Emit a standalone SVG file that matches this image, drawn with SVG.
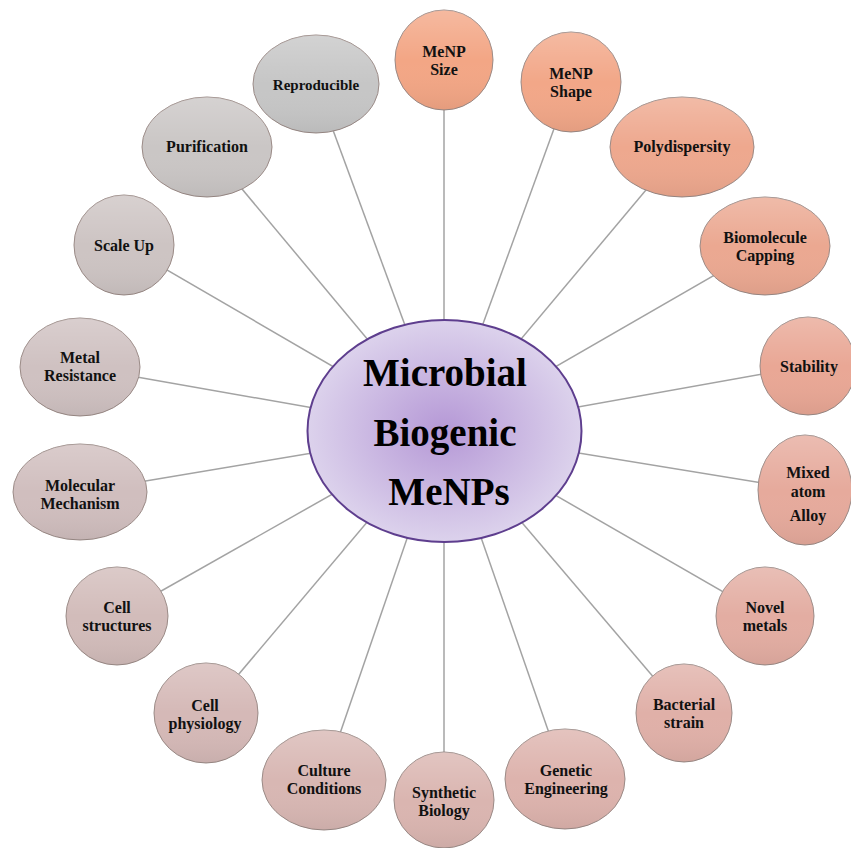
<svg xmlns="http://www.w3.org/2000/svg" width="851" height="848" viewBox="0 0 851 848">
<defs>
<radialGradient id="hub" cx="0.5" cy="0.5" r="0.5">
<stop offset="0" stop-color="#b598d6"/>
<stop offset="1" stop-color="#dcd2ec"/>
</radialGradient>
<linearGradient id="shade" x1="0" y1="0" x2="0" y2="1">
<stop offset="0" stop-color="#ffffff" stop-opacity="0.22"/>
<stop offset="0.5" stop-color="#ffffff" stop-opacity="0"/>
<stop offset="1" stop-color="#000000" stop-opacity="0.06"/>
</linearGradient>
</defs>
<style>
.link{stroke:#a3a3a3;stroke-width:1.5;fill:none}
.node{stroke:#9a8a86;stroke-width:1}
.gloss{fill:url(#shade);stroke:none}
.t{font-family:"Liberation Serif","Times New Roman",serif;font-weight:bold;font-size:16px;fill:#111;text-anchor:middle}
.ht{font-family:"Liberation Serif","Times New Roman",serif;font-weight:bold;font-size:39px;fill:#000;text-anchor:middle}
</style>
<rect width="851" height="848" fill="#ffffff"/>
<g id="connectors">
<line class="link" x1="444" y1="431" x2="444" y2="60"/>
<line class="link" x1="444" y1="431" x2="316" y2="84"/>
<line class="link" x1="444" y1="431" x2="571" y2="82"/>
<line class="link" x1="444" y1="431" x2="682" y2="147"/>
<line class="link" x1="444" y1="431" x2="765" y2="246"/>
<line class="link" x1="444" y1="431" x2="808" y2="366"/>
<line class="link" x1="444" y1="431" x2="805" y2="490"/>
<line class="link" x1="444" y1="431" x2="765" y2="616"/>
<line class="link" x1="444" y1="431" x2="684" y2="713"/>
<line class="link" x1="444" y1="431" x2="565" y2="779"/>
<line class="link" x1="444" y1="431" x2="444" y2="800"/>
<line class="link" x1="444" y1="431" x2="324" y2="780"/>
<line class="link" x1="444" y1="431" x2="206" y2="713"/>
<line class="link" x1="444" y1="431" x2="117" y2="616"/>
<line class="link" x1="444" y1="431" x2="80" y2="492"/>
<line class="link" x1="444" y1="431" x2="80" y2="367"/>
<line class="link" x1="444" y1="431" x2="124" y2="245"/>
<line class="link" x1="444" y1="431" x2="207" y2="147"/>
</g>
<g id="hub-node">
<ellipse cx="444.5" cy="431" rx="137" ry="111" fill="url(#hub)" stroke="#5e3e8e" stroke-width="2"/>
<text class="ht" x="445" y="386">Microbial</text>
<text class="ht" x="445" y="446">Biogenic</text>
<text class="ht" x="449" y="505">MeNPs</text>
</g>
<g id="n-size">
<ellipse class="node" cx="444" cy="60" rx="49" ry="50" fill="#f3a685"/><ellipse class="gloss" cx="444" cy="60" rx="49" ry="50"/>
<text class="t" x="444" y="57">MeNP</text><text class="t" x="444" y="75">Size</text>
</g>
<g id="n-reproducible">
<ellipse class="node" cx="316" cy="84" rx="63" ry="49" fill="#c6c6c6"/><ellipse class="gloss" cx="316" cy="84" rx="63" ry="49"/>
<text class="t" x="316" y="90" style="font-size:15px">Reproducible</text>
</g>
<g id="n-shape">
<ellipse class="node" cx="571" cy="82" rx="50" ry="50" fill="#f2a788"/><ellipse class="gloss" cx="571" cy="82" rx="50" ry="50"/>
<text class="t" x="571" y="79">MeNP</text><text class="t" x="571" y="97">Shape</text>
</g>
<g id="n-poly">
<ellipse class="node" cx="682" cy="147" rx="72" ry="50" fill="#eea88e"/><ellipse class="gloss" cx="682" cy="147" rx="72" ry="50"/>
<text class="t" x="682" y="152">Polydispersity</text>
</g>
<g id="n-capping">
<ellipse class="node" cx="765" cy="246" rx="65" ry="49" fill="#eba891"/><ellipse class="gloss" cx="765" cy="246" rx="65" ry="49"/>
<text class="t" x="765" y="243">Biomolecule</text><text class="t" x="765" y="261">Capping</text>
</g>
<g id="n-stability">
<ellipse class="node" cx="808" cy="366" rx="48" ry="49" fill="#e9a795"/><ellipse class="gloss" cx="808" cy="366" rx="48" ry="49"/>
<text class="t" x="809" y="372">Stability</text>
</g>
<g id="n-alloy">
<ellipse class="node" cx="805" cy="490" rx="47" ry="55" fill="#e6aa9c"/><ellipse class="gloss" cx="805" cy="490" rx="47" ry="55"/>
<text class="t" x="808" y="478">Mixed</text><text class="t" x="808" y="497">atom</text><text class="t" x="808" y="521">Alloy</text>
</g>
<g id="n-novel">
<ellipse class="node" cx="765" cy="616" rx="49" ry="49" fill="#e3ada2"/><ellipse class="gloss" cx="765" cy="616" rx="49" ry="49"/>
<text class="t" x="765" y="613">Novel</text><text class="t" x="765" y="631">metals</text>
</g>
<g id="n-bacterial">
<ellipse class="node" cx="684" cy="713" rx="48" ry="49" fill="#e0b0a8"/><ellipse class="gloss" cx="684" cy="713" rx="48" ry="49"/>
<text class="t" x="684" y="710">Bacterial</text><text class="t" x="684" y="728">strain</text>
</g>
<g id="n-genetic">
<ellipse class="node" cx="565" cy="779" rx="60" ry="50" fill="#ddb3ad"/><ellipse class="gloss" cx="565" cy="779" rx="60" ry="50"/>
<text class="t" x="566" y="776">Genetic</text><text class="t" x="566" y="794">Engineering</text>
</g>
<g id="n-synthetic">
<ellipse class="node" cx="444" cy="800" rx="50" ry="48" fill="#dab5b0"/><ellipse class="gloss" cx="444" cy="800" rx="50" ry="48"/>
<text class="t" x="444" y="798">Synthetic</text><text class="t" x="444" y="816">Biology</text>
</g>
<g id="n-culture">
<ellipse class="node" cx="324" cy="780" rx="62" ry="50" fill="#d8b7b3"/><ellipse class="gloss" cx="324" cy="780" rx="62" ry="50"/>
<text class="t" x="324" y="776">Culture</text><text class="t" x="324" y="794">Conditions</text>
</g>
<g id="n-physiology">
<ellipse class="node" cx="206" cy="713" rx="52" ry="50" fill="#d5b9b7"/><ellipse class="gloss" cx="206" cy="713" rx="52" ry="50"/>
<text class="t" x="205" y="711">Cell</text><text class="t" x="205" y="729">physiology</text>
</g>
<g id="n-structures">
<ellipse class="node" cx="117" cy="616" rx="51" ry="49" fill="#d2bcba"/><ellipse class="gloss" cx="117" cy="616" rx="51" ry="49"/>
<text class="t" x="117" y="613">Cell</text><text class="t" x="117" y="631">structures</text>
</g>
<g id="n-molecular">
<ellipse class="node" cx="80" cy="492" rx="67" ry="48" fill="#d0bebe"/><ellipse class="gloss" cx="80" cy="492" rx="67" ry="48"/>
<text class="t" x="80" y="491">Molecular</text><text class="t" x="80" y="509">Mechanism</text>
</g>
<g id="n-resistance">
<ellipse class="node" cx="80" cy="367" rx="60" ry="49" fill="#cfc1c1"/><ellipse class="gloss" cx="80" cy="367" rx="60" ry="49"/>
<text class="t" x="80" y="363">Metal</text><text class="t" x="80" y="381">Resistance</text>
</g>
<g id="n-scaleup">
<ellipse class="node" cx="124" cy="245" rx="50" ry="50" fill="#cdc4c3"/><ellipse class="gloss" cx="124" cy="245" rx="50" ry="50"/>
<text class="t" x="124" y="251">Scale Up</text>
</g>
<g id="n-purification">
<ellipse class="node" cx="207" cy="147" rx="65" ry="50" fill="#cac6c5"/><ellipse class="gloss" cx="207" cy="147" rx="65" ry="50"/>
<text class="t" x="207" y="152">Purification</text>
</g>
</svg>
